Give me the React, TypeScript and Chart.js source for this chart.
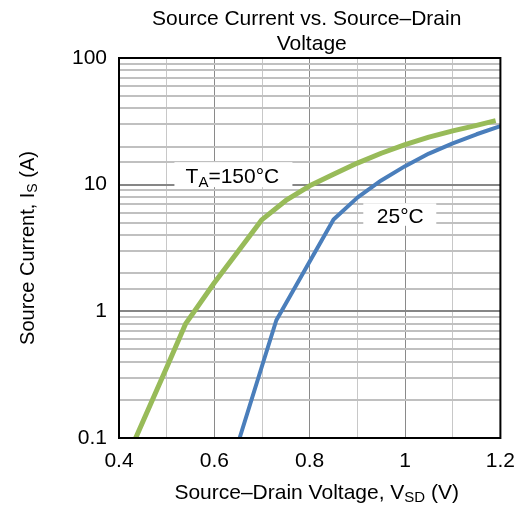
import React, { useEffect, useRef } from "react";
import { Chart, registerables } from "chart.js";

Chart.register(...registerables);

const FONT = '"Liberation Sans", Arial, Helvetica, sans-serif';

const titleLines = ["Source Current vs. Source–Drain", "Voltage"];
const xTickLabels = [0.4, 0.6, 0.8, 1, 1.2];
const yTickLabels = [0.1, 1, 10, 100];

// T_A = 150°C curve
const vsd150 = [0.435, 0.5, 0.54, 0.6, 0.65, 0.7, 0.75, 0.8, 0.85, 0.9, 0.95, 1.0, 1.05, 1.1, 1.15, 1.19];
const is150 = [0.1, 0.36, 0.8, 1.68, 2.98, 5.3, 7.5, 9.8, 12.1, 14.8, 17.7, 20.7, 23.7, 26.6, 29.4, 32.0];

// 25°C curve
const vsd25 = [0.653, 0.7, 0.73, 0.8, 0.85, 0.9, 0.95, 1.0, 1.05, 1.1, 1.15, 1.2];
const is25 = [0.1, 0.37, 0.85, 2.47, 5.3, 7.9, 10.8, 14.0, 17.6, 21.2, 25.0, 29.0];

const seriesLabels = ["TA=150°C", "25°C"];

type Part = { t: string; size: number; dy: number };

function richWidth(ctx: CanvasRenderingContext2D, parts: Part[]) {
  let w = 0;
  for (const p of parts) {
    ctx.font = `${p.size}px ${FONT}`;
    w += ctx.measureText(p.t).width;
  }
  return w;
}

function drawRich(ctx: CanvasRenderingContext2D, parts: Part[], cx: number, baseline: number) {
  const total = richWidth(ctx, parts);
  let x = cx - total / 2;
  ctx.textAlign = "left";
  ctx.textBaseline = "alphabetic";
  for (const p of parts) {
    ctx.font = `${p.size}px ${FONT}`;
    ctx.fillText(p.t, x, baseline + p.dy);
    x += ctx.measureText(p.t).width;
  }
}

const isDecade = (v: number) => {
  const l = Math.log10(v);
  return Math.abs(l - Math.round(l)) < 1e-6;
};
const isMajorX = (v: number) => xTickLabels.some((t) => Math.abs(t - v) < 1e-6);

const decorPlugin = {
  id: "decor",
  afterDatasetsDraw(chart: any) {
    const ctx: CanvasRenderingContext2D = chart.ctx;
    const xs = chart.scales.x;
    const ys = chart.scales.y;
    ctx.save();
    ctx.fillStyle = "#000";
    const lbl1: Part[] = [
      { t: "T", size: 21, dy: 0 },
      { t: "A", size: 15, dy: 4 },
      { t: "=150°C", size: 21, dy: 0 },
    ];
    const cx1 = xs.getPixelForValue(0.64);
    const by1 = ys.getPixelForValue(10) - 1.5;
    ctx.fillStyle = "#fff";
    ctx.fillRect(cx1 - 59, by1 - 21, 118, 25);
    ctx.fillStyle = "#000";
    drawRich(ctx, lbl1, cx1 - 1, by1);

    const lbl2: Part[] = [{ t: "25°C", size: 21, dy: 0 }];
    const cx2 = xs.getPixelForValue(0.99);
    const by2 = ys.getPixelForValue(5.0);
    ctx.fillStyle = "#fff";
    ctx.fillRect(cx2 - 37, by2 - 19.5, 73, 22.5);
    ctx.fillStyle = "#000";
    drawRich(ctx, lbl2, cx2, by2);
    ctx.restore();
  },
  afterDraw(chart: any) {
    const ctx: CanvasRenderingContext2D = chart.ctx;
    const a = chart.chartArea;
    ctx.save();
    ctx.strokeStyle = "#000";
    ctx.lineWidth = 2;
    ctx.strokeRect(a.left, a.top, a.right - a.left, a.bottom - a.top);
    ctx.fillStyle = "#000";
    const cx = (a.left + a.right) / 2;
    ctx.font = `21px ${FONT}`;
    ctx.textAlign = "center";
    ctx.textBaseline = "alphabetic";
    ctx.fillText(titleLines[0], cx - 3, 25);
    ctx.fillText(titleLines[1], cx + 2, 50);
    drawRich(
      ctx,
      [
        { t: "Source–Drain Voltage, V", size: 21, dy: 0 },
        { t: "SD", size: 15, dy: 3 },
        { t: " (V)", size: 21, dy: 0 },
      ],
      cx + 7,
      499
    );
    ctx.translate(34, (a.top + a.bottom) / 2);
    ctx.rotate(-Math.PI / 2);
    drawRich(
      ctx,
      [
        { t: "Source Current, I", size: 20, dy: 0 },
        { t: "S", size: 14, dy: 3 },
        { t: " (A)", size: 20, dy: 0 },
      ],
      0,
      0
    );
    ctx.restore();
  },
};

export default function App() {
  const ref = useRef<HTMLCanvasElement | null>(null);
  useEffect(() => {
    if (!ref.current) return;
    const chart = new Chart(ref.current, {
      type: "line",
      data: {
        datasets: [
          {
            label: seriesLabels[1],
            data: vsd25.map((v, i) => ({ x: v, y: is25[i] })),
            borderColor: "#4A7EBB",
            borderWidth: 4,
            pointRadius: 0,
            tension: 0,
            borderJoinStyle: "round",
            fill: false,
          },
          {
            label: seriesLabels[0],
            data: vsd150.map((v, i) => ({ x: v, y: is150[i] })),
            borderColor: "#98BB59",
            borderWidth: 5,
            pointRadius: 0,
            tension: 0,
            borderJoinStyle: "round",
            fill: false,
          },
        ],
      },
      options: {
        animation: false,
        responsive: false,
        devicePixelRatio: 1,
        layout: { padding: { left: 0, right: 25, top: 58, bottom: 0 } },
        plugins: { legend: { display: false }, tooltip: { enabled: false }, title: { display: false } },
        scales: {
          x: {
            type: "linear",
            min: 0.4,
            max: 1.2,
            afterFit: (s: any) => {
              s.height = 73;
            },
            ticks: {
              stepSize: 0.1,
              autoSkip: false,
              maxRotation: 0,
              padding: 11,
              color: "#000",
              font: { family: FONT, size: 21 },
              callback: (v: any) => (isMajorX(Number(v)) ? String(Math.round(Number(v) * 10) / 10) : ""),
            },
            grid: {
              drawTicks: false,
              color: (c: any) => (c.tick && isMajorX(c.tick.value) ? "#8a8a8a" : "#c8c8c8"),
              lineWidth: 1,
            },
            border: { display: true, color: "#000", width: 2 },
          },
          y: {
            type: "logarithmic",
            min: 0.1,
            max: 100,
            afterFit: (s: any) => {
              s.width = 119;
            },
            ticks: {
              autoSkip: false,
              padding: 12,
              color: "#000",
              font: { family: FONT, size: 21 },
              callback: (v: any) => {
                const n = Number(v);
                return yTickLabels.some((t) => Math.abs(t - n) / t < 1e-6) ? String(n) : "";
              },
            },
            grid: {
              drawTicks: false,
              color: (c: any) => (c.tick && isDecade(c.tick.value) ? "#868686" : "#c0c0c0"),
              lineWidth: 2,
            },
            border: { display: true, color: "#000", width: 2 },
          },
        },
      },
      plugins: [decorPlugin],
    });
    return () => chart.destroy();
  }, []);
  return (
    <div style={{ position: "absolute", left: 0, top: 0, width: 526, height: 511, background: "#fff" }}>
      <canvas ref={ref} width={526} height={511} />
    </div>
  );
}
